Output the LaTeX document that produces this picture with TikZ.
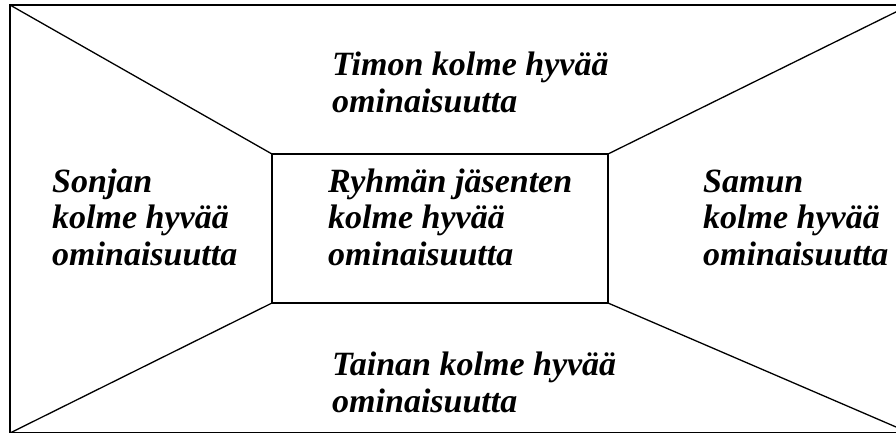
\documentclass[tikz,border=0pt]{standalone}
\usepackage{fontspec}
\setmainfont{Liberation Serif}
\usepackage{tikz}

\tikzset{
    pane/.style={font=\fontsize{34}{36.5}\selectfont\bfseries\itshape, align=left, anchor=base west, inner sep=0pt},
    frame/.style={line width=1.3pt},
}

\begin{document}
\begin{tikzpicture}[x=1pt,y=-1pt]
            \useasboundingbox (0,0) rectangle (896,432);
            \clip (0,0) rectangle (896,432);
            % outer corners and middle box
            \coordinate (ol) at (10,5);
            \coordinate (or) at (910,5);
            \coordinate (ul) at (10,433);
            \coordinate (ur) at (910,433);
            \coordinate (il) at (272,154);
            \coordinate (ir) at (608,154);
            \coordinate (jl) at (272,303);
            \coordinate (jr) at (608,303);
            \draw[frame] (ol) rectangle (ur);
            \draw[frame] (il) rectangle (jr);
            \foreach \a/\b in {ol/il,or/ir,ul/jl,ur/jr} {
                    \draw[frame] (\a) -- (\b);
                }
            % labels, anchored at the baseline of their last line
            \node[pane] (timo) at (332,112) {Timon kolme hyvää\\ominaisuutta};
            \node[pane] (taina) at (332,412) {Tainan kolme hyvää\\ominaisuutta};
            \node[pane] (sonja) at (52,265) {Sonjan\\kolme hyvää\\ominaisuutta};
            \node[pane] (ryhma) at (328,265) {Ryhmän jäsenten\\kolme hyvää\\ominaisuutta};
            \node[pane] (samu) at (703,265) {Samun\\kolme hyvää\\ominaisuutta};
        \end{tikzpicture}
\end{document}
